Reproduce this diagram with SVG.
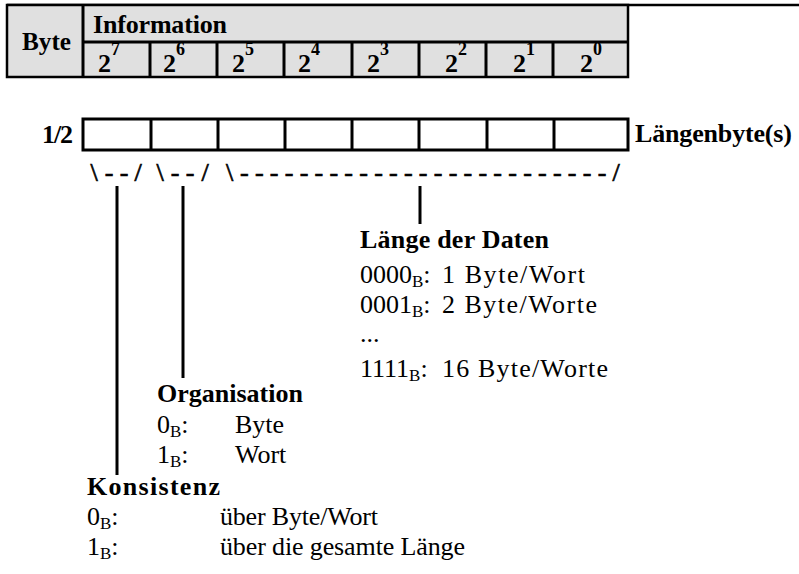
<svg xmlns="http://www.w3.org/2000/svg" width="799" height="574" viewBox="0 0 799 574">
<style>
text{font-family:"Liberation Serif","Times New Roman",serif;fill:#000}
.b{font-weight:bold;font-size:26px}
.r{font-size:26px}
.sup{font-size:18px;font-weight:bold}
.sub{font-size:17px}
.br{font-size:26px;stroke:#000;stroke-width:0.7}
.ln{stroke:#000;stroke-width:3;fill:none}
.cell{fill:#e0e0e0;stroke:#000;stroke-width:2.5}
</style>
<rect width="799" height="574" fill="#fff"/>
<g id="header">
<line x1="7" y1="5" x2="799" y2="5" stroke="#000" stroke-width="2.5"/>
<rect class="cell" x="7" y="5" width="621" height="72"/>
<line class="ln" x1="83" y1="5" x2="83" y2="77" stroke-width="2.5"/>
<line class="ln" x1="83" y1="42" x2="628" y2="42" stroke-width="2.5"/>
<g class="ln" stroke-width="2.5">
<line x1="150" y1="42" x2="150" y2="77"/><line x1="217" y1="42" x2="217" y2="77"/>
<line x1="284" y1="42" x2="284" y2="77"/><line x1="352" y1="42" x2="352" y2="77"/>
<line x1="419" y1="42" x2="419" y2="77"/><line x1="486" y1="42" x2="486" y2="77"/>
<line x1="553" y1="42" x2="553" y2="77"/>
</g>
<text class="b" x="22" y="50" textLength="49" lengthAdjust="spacingAndGlyphs">Byte</text>
<text class="b" x="93" y="33" textLength="134">Information</text>
<text class="b" x="98" y="72">2<tspan class="sup" dy="-17">7</tspan></text>
<text class="b" x="163" y="72">2<tspan class="sup" dy="-17">6</tspan></text>
<text class="b" x="232" y="72">2<tspan class="sup" dy="-17">5</tspan></text>
<text class="b" x="298" y="72">2<tspan class="sup" dy="-17">4</tspan></text>
<text class="b" x="367" y="72">2<tspan class="sup" dy="-17">3</tspan></text>
<text class="b" x="445" y="72">2<tspan class="sup" dy="-17">2</tspan></text>
<text class="b" x="513" y="72">2<tspan class="sup" dy="-17">1</tspan></text>
<text class="b" x="580" y="72">2<tspan class="sup" dy="-17">0</tspan></text>
</g>
<g id="bytebox">
<rect class="ln" x="83" y="119" width="545" height="31"/>
<g class="ln">
<line x1="151" y1="119" x2="151" y2="150"/><line x1="218" y1="119" x2="218" y2="150"/>
<line x1="285" y1="119" x2="285" y2="150"/><line x1="352" y1="119" x2="352" y2="150"/>
<line x1="419" y1="119" x2="419" y2="150"/><line x1="487" y1="119" x2="487" y2="150"/>
<line x1="554" y1="119" x2="554" y2="150"/>
</g>
<text class="b" x="42" y="143" textLength="31">1/2</text>
<text class="b" x="635" y="142" textLength="157">Längenbyte(s)</text>
</g>
<g id="braces">
<text class="br" y="181" text-anchor="middle" x="94 109 124 138">\--/</text>
<text class="br" y="181" text-anchor="middle" x="160 175 190 205">\--/</text>
<text class="br" y="181" text-anchor="middle" x="229.5 244.4 259.3 274.2 289.1 304 318.9 333.8 348.7 363.6 378.5 393.4 408.3 423.2 438.1 453 467.9 482.8 497.7 512.6 527.5 542.4 557.3 572.2 587.1 602 616">\-------------------------/</text>
</g>
<g id="connectors" class="ln">
<line x1="117" y1="186" x2="117" y2="475"/>
<line x1="183" y1="186" x2="183" y2="378"/>
<line x1="420" y1="186" x2="420" y2="224"/>
</g>
<g id="laenge">
<text class="b" x="360" y="248" textLength="189">Länge der Daten</text>
<text class="r" x="360" y="283">0000<tspan class="sub" dy="4">B</tspan><tspan dy="-4">:</tspan></text>
<text class="r" x="442" y="283" textLength="143">1 Byte/Wort</text>
<text class="r" x="360" y="313">0001<tspan class="sub" dy="4">B</tspan><tspan dy="-4">:</tspan></text>
<text class="r" x="442" y="313" textLength="155">2 Byte/Worte</text>
<text class="r" x="360" y="342">...</text>
<text class="r" x="360" y="377">1111<tspan class="sub" dy="4">B</tspan><tspan dy="-4">:</tspan></text>
<text class="r" x="442" y="377" textLength="166">16 Byte/Worte</text>
</g>
<g id="organisation">
<text class="b" x="157" y="402" textLength="146">Organisation</text>
<text class="r" x="157" y="433">0<tspan class="sub" dy="4">B</tspan><tspan dy="-4">:</tspan></text>
<text class="r" x="235" y="433">Byte</text>
<text class="r" x="157" y="463">1<tspan class="sub" dy="4">B</tspan><tspan dy="-4">:</tspan></text>
<text class="r" x="235" y="463">Wort</text>
</g>
<g id="konsistenz">
<text class="b" x="87" y="495" textLength="133">Konsistenz</text>
<text class="r" x="87" y="525">0<tspan class="sub" dy="4">B</tspan><tspan dy="-4">:</tspan></text>
<text class="r" x="220" y="525" textLength="158">über Byte/Wort</text>
<text class="r" x="87" y="555">1<tspan class="sub" dy="4">B</tspan><tspan dy="-4">:</tspan></text>
<text class="r" x="220" y="555" textLength="245">über die gesamte Länge</text>
</g>
</svg>
